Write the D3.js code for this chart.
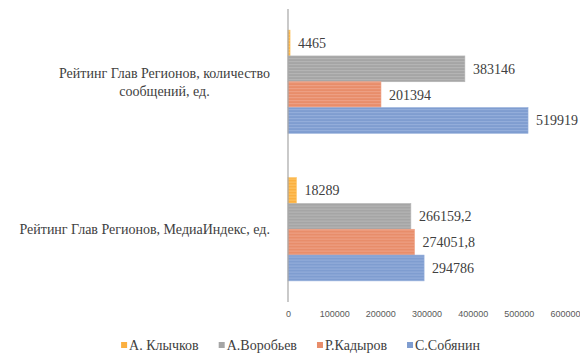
<!DOCTYPE html>
<html>
<head>
<meta charset="utf-8">
<script src="https://cdn.jsdelivr.net/npm/d3@7"></script>
<style>
  html, body { margin: 0; padding: 0; background: #fff; }
  svg { display: block; }
</style>
</head>
<body>
<script>
// Categories (top to bottom) and series (drawn top to bottom within each group)
const categories = [
  ["Рейтинг Глав Регионов, количество", "сообщений, ед."],
  ["Рейтинг Глав Регионов, МедиаИндекс, ед."]
];
const categoryKeys = ["count", "media"];
const seriesNames = ["А. Клычков", "А.Воробьев", "Р.Кадыров", "С.Собянин"];
const seriesColors = ["#fbb040", "#a5a5a5", "#e88d6a", "#7f9dd0"];
const stripeColors = ["#fdc567", "#b6b6b6", "#eea286", "#96afdb"];
// values[series][category]
const klychkov = [4465, 18289];
const vorobyev = [383146, 266159.2];
const kadyrov = [201394, 274051.8];
const sobyanin = [519919, 294786];
const valueLabels = [
  ["4465", "18289"],
  ["383146", "266159,2"],
  ["201394", "274051,8"],
  ["519919", "294786"]
];
const tickValues = [0, 100000, 200000, 300000, 400000, 500000, 600000];

const seriesValues = [klychkov, vorobyev, kadyrov, sobyanin];

const W = 580, H = 354;
const svg = d3.select("body").append("svg").attr("width", W).attr("height", H);

// Striped fills
const defs = svg.append("defs");
seriesColors.forEach((c, i) => {
  const p = defs.append("pattern")
    .attr("id", "stripe" + i)
    .attr("patternUnits", "userSpaceOnUse")
    .attr("width", 8).attr("height", 3);
  p.append("rect").attr("width", 8).attr("height", 3).attr("fill", c);
  p.append("rect").attr("y", 1).attr("width", 8).attr("height", 1).attr("fill", stripeColors[i]);
});

const x = d3.scaleLinear().domain([0, 600000]).range([288, 565]);
const y = d3.scaleBand().domain(categoryKeys).range([8, 303]).paddingInner(0.3).paddingOuter(0.15);
const yInner = d3.scaleBand().domain(d3.range(seriesNames.length)).range([0, y.bandwidth()]);

const serifFont = "Liberation Serif";
const sansFont = "Liberation Sans";
const labelSize = 14;

// Bars
categoryKeys.forEach((k, ci) => {
  const g = svg.append("g").attr("transform", `translate(0,${y(k)})`);
  seriesNames.forEach((s, si) => {
    const v = seriesValues[si][ci];
    g.append("rect")
      .attr("x", x(0))
      .attr("y", yInner(si))
      .attr("width", x(v) - x(0))
      .attr("height", yInner.bandwidth())
      .attr("fill", `url(#stripe${si})`)
      .attr("stroke", stripeColors[si])
      .attr("stroke-width", 0.6);
    g.append("text")
      .attr("x", x(v) + 8)
      .attr("y", yInner(si) + yInner.bandwidth() / 2)
      .attr("dy", "0.35em")
      .attr("font-family", serifFont)
      .attr("font-size", labelSize)
      .attr("fill", "#404040")
      .text(valueLabels[si][ci]);
  });
});

// Vertical axis line
svg.append("line")
  .attr("x1", x(0)).attr("x2", x(0))
  .attr("y1", 9).attr("y2", 302)
  .attr("stroke", "#a6a6a6").attr("stroke-width", 1.2);

// Bottom tick labels
const xAxis = d3.axisBottom(x).tickValues(tickValues).tickSize(0).tickPadding(0).tickFormat(d3.format("d"));
const ax = svg.append("g").attr("transform", "translate(0,311)").call(xAxis);
ax.select(".domain").remove();
ax.attr("font-family", sansFont).attr("font-size", 9);
ax.selectAll("text").attr("fill", "#595959");

// Category labels: right-aligned block, lines centred in it
const labelRight = 270;
categoryKeys.forEach((k, ci) => {
  const lines = categories[ci];
  const t = svg.append("text")
    .attr("font-family", serifFont)
    .attr("font-size", labelSize)
    .attr("fill", "#404040")
    .attr("text-anchor", "middle");
  const cy = y(k) + y.bandwidth() / 2;
  const lh = 18;
  const spans = lines.map((ln, li) =>
    t.append("tspan")
      .attr("y", cy + (li - (lines.length - 1) / 2) * lh)
      .attr("dy", "0.35em")
      .text(ln));
  const maxW = d3.max(spans, s => s.node().getComputedTextLength());
  spans.forEach(s => s.attr("x", labelRight - maxW / 2));
});

// Legend
const legendY = 345;
const legend = svg.append("g");
let lx = 0;
seriesNames.forEach((s, si) => {
  const g = legend.append("g");
  g.append("rect").attr("x", 0).attr("y", legendY - 3).attr("width", 6).attr("height", 6).attr("fill", seriesColors[si]);
  const tx = g.append("text")
    .attr("x", 8).attr("y", legendY).attr("dy", "0.35em")
    .attr("font-family", serifFont).attr("font-size", labelSize)
    .attr("fill", "#404040").text(s);
  const w = 8 + tx.node().getComputedTextLength();
  g.attr("transform", `translate(${lx},0)`);
  lx += w + 20;
});
const totalW = lx - 20;
legend.attr("transform", `translate(${(121 + 480) / 2 - totalW / 2},0)`);
</script>
</body>
</html>
